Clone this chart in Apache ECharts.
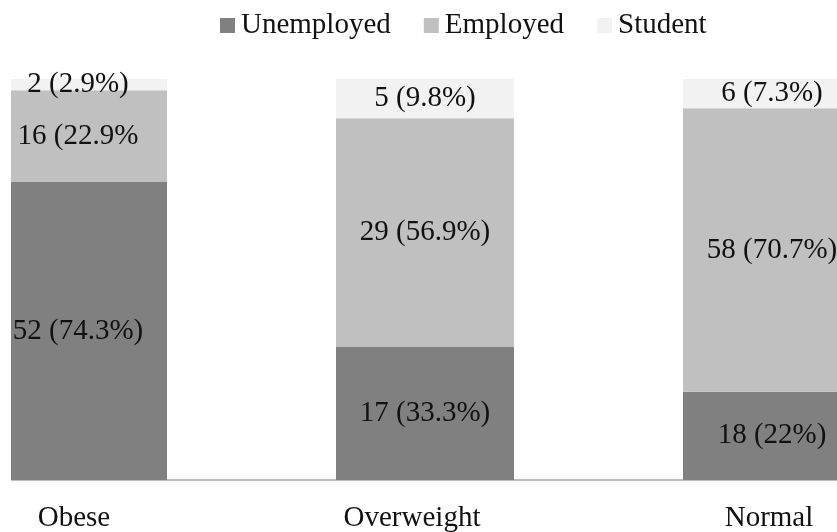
<!DOCTYPE html>
<html>
<head>
<meta charset="utf-8">
<script src="https://cdn.jsdelivr.net/npm/echarts@6/dist/echarts.min.js"></script>
<style>
  html, body { margin: 0; padding: 0; background: #fff; }
  #chart { width: 837px; height: 532px; }
</style>
</head>
<body>
<div id="chart"></div>
<script>
// Employment status by weight group: counts and share of each group (%)
const categories = ['Obese', 'Overweight', 'Normal'];
const unemployedCount = [52, 17, 18];
const unemployedPct = [74.3, 33.3, 22];
const employedCount = [16, 29, 58];
const employedPct = [22.9, 56.9, 70.7];
const studentCount = [2, 5, 6];
const studentPct = [2.9, 9.8, 7.3];

const FONT = "'Liberation Serif', 'Times New Roman', serif";
const TEXT = '#111';
const FS = 29;

// plot area edges (the outer bars run past them and are cut off)
const PLOT_LEFT = 11;

// category label nudges (rich-text padding)
const catPad = { Obese: [0, 8, 0, 0], Overweight: [0, 26, 0, 0], Normal: [0, 6, 0, 0] };

function buildData(pcts, counts, extra) {
  return pcts.map((p, i) => {
    const item = { value: p, count: counts[i] };
    if (extra && extra[i]) item.label = extra[i];
    return item;
  });
}

function barSeries(name, color, pcts, counts, extra) {
  return {
    name: name,
    type: 'bar',
    stack: 'total',
    barWidth: 178,
    xAxisIndex: 0,
    yAxisIndex: 0,
    itemStyle: { color: color },
    label: {
      show: true,
      position: 'inside',
      fontFamily: FONT,
      fontSize: FS,
      color: TEXT,
      formatter: p => p.data.count + ' (' + p.data.value + '%)'
    },
    data: buildData(pcts, counts, extra),
    z: 3
  };
}

const chart = echarts.init(document.getElementById('chart'), null, { renderer: 'canvas' });

chart.setOption({
  animation: false,
  backgroundColor: '#fff',
  legend: {
    left: 215,
    top: 6,
    itemWidth: 15,
    itemHeight: 15,
    itemGap: 33,
    icon: 'rect',
    textStyle: { fontFamily: FONT, fontSize: FS, color: TEXT, padding: [0, 0, 0, 1] },
    data: ['Unemployed', 'Employed', 'Student']
  },
  grid: [
    { left: -95.5, right: -108.5, top: 79, bottom: 52, outerBoundsMode: 'none', containLabel: false },
    { left: PLOT_LEFT, right: 0, top: 79, bottom: 52, outerBoundsMode: 'none', containLabel: false }
  ],
  xAxis: [
    {
      type: 'category',
      gridIndex: 0,
      data: categories,
      axisLine: { show: false },
      axisTick: { show: false },
      axisLabel: {
        interval: 0,
        margin: 24,
        fontFamily: FONT,
        fontSize: FS,
        color: TEXT,
        formatter: v => '{' + v + '|' + v + '}',
        rich: {
          Obese: { padding: catPad.Obese, fontFamily: FONT, fontSize: FS, color: TEXT },
          Overweight: { padding: catPad.Overweight, fontFamily: FONT, fontSize: FS, color: TEXT },
          Normal: { padding: catPad.Normal, fontFamily: FONT, fontSize: FS, color: TEXT }
        }
      }
    },
    {
      type: 'category',
      gridIndex: 1,
      data: [''],
      z: 1,
      axisLine: { show: true, lineStyle: { color: '#bdbdbd', width: 2 } },
      axisTick: { show: false },
      axisLabel: { show: false }
    }
  ],
  yAxis: [
    { type: 'value', gridIndex: 0, min: 0, max: 100, show: false },
    { type: 'value', gridIndex: 1, min: 0, max: 100, show: false }
  ],
  // white margin left of the plot area, hiding the part of the first bar past its edge
  graphic: [
    {
      type: 'rect',
      left: 0,
      top: 60,
      shape: { x: 0, y: 0, width: PLOT_LEFT, height: 440 },
      style: { fill: '#fff' },
      z: 10,
      silent: true
    }
  ],
  series: [
    barSeries('Unemployed', '#808080', unemployedPct, unemployedCount),
    barSeries('Employed', '#c0c0c0', employedPct, employedCount,
      [{ width: 124, overflow: 'truncate', ellipsis: '' }]),
    barSeries('Student', '#f2f2f2', studentPct, studentCount)
  ]
});
</script>
</body>
</html>
